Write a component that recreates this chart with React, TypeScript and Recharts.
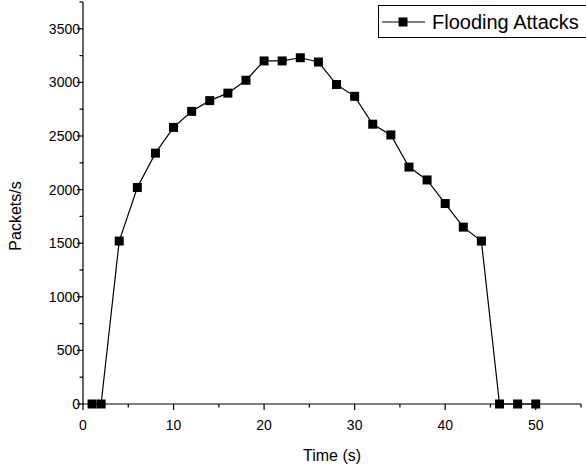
import React from "react";
import { LineChart, Line, XAxis, YAxis } from "recharts";

const times = [1, 2, 4, 6, 8, 10, 12, 14, 16, 18, 20, 22, 24, 26, 28, 30, 32, 34, 36, 38, 40, 42, 44, 46, 48, 50];
const packets = [0, 0, 1520, 2020, 2340, 2580, 2730, 2830, 2900, 3020, 3200, 3200, 3230, 3190, 2980, 2870, 2610, 2510, 2210, 2090, 1870, 1650, 1520, 0, 0, 0];
const xTicks = [0, 5, 10, 15, 20, 25, 30, 35, 40, 45, 50, 55];
const yTicks = [0, 250, 500, 750, 1000, 1250, 1500, 1750, 2000, 2250, 2500, 2750, 3000, 3250, 3500, 3750];

const data = times.map((t, i) => ({ t, v: packets[i] }));

const font = "'Liberation Sans', Arial, sans-serif";

function SquareDot(props: any) {
  const { cx, cy } = props;
  if (cx == null || cy == null) return null;
  return <rect x={cx - 4.5} y={cy - 4.5} width={9} height={9} fill="#000" />;
}

function XTick(props: any) {
  const { x, y, payload } = props;
  const major = payload.value % 10 === 0;
  return (
    <g>
      <line x1={x} y1={y - 8} x2={x} y2={y - 8 + (major ? 6 : 3.5)} stroke="#000" strokeWidth={1.2} />
      {major && payload.value <= 50 && (
        <text x={x} y={y + 18} textAnchor="middle" fontSize={14} fontFamily={font} fill="#000">
          {payload.value}
        </text>
      )}
    </g>
  );
}

function YTick(props: any) {
  const { x, y, payload } = props;
  const major = payload.value % 500 === 0;
  return (
    <g>
      <line x1={x + 8} y1={y} x2={x + 8 - (major ? 6 : 3.5)} y2={y} stroke="#000" strokeWidth={1.2} />
      {major && payload.value <= 3500 && (
        <text x={x + 5} y={y + 5} textAnchor="end" fontSize={14} fontFamily={font} fill="#000">
          {payload.value}
        </text>
      )}
    </g>
  );
}

function YLabel(props: any) {
  const { viewBox } = props;
  const cy = viewBox.y + viewBox.height / 2 + 13;
  return (
    <text
      x={21}
      y={cy}
      transform={`rotate(-90, 21, ${cy})`}
      textAnchor="middle"
      fontSize={16}
      fontFamily={font}
      fill="#000"
    >
      Packets/s
    </text>
  );
}

function LegendBox() {
  return (
    <svg width={210} height={34} style={{ display: "block" }}>
      <rect x={0.5} y={0.5} width={209} height={32} fill="#fff" stroke="#000" strokeWidth={1} />
      <line x1={4} y1={17} x2={47} y2={17} stroke="#000" strokeWidth={1.2} />
      <rect x={20.5} y={12.5} width={9} height={9} fill="#000" />
      <text x={54} y={24} fontSize={20} fontFamily={font} fill="#000">
        Flooding Attacks
      </text>
    </svg>
  );
}

export default function App() {
  return (
    <div style={{ position: "absolute", left: 0, top: 0, width: 586, height: 471, background: "#fff" }}>
      <LineChart width={586} height={471} data={data} margin={{ top: 2, right: 5, left: 0, bottom: 0 }}>
        <XAxis
          type="number"
          dataKey="t"
          domain={[0, 55]}
          ticks={xTicks}
          interval={0}
          tickLine={false}
          tick={<XTick />}
          height={67}
          axisLine={{ stroke: "#000", strokeWidth: 1.2 }}
          label={{ value: "Time (s)", position: "insideBottom", offset: 10, fontSize: 16, fontFamily: font, fill: "#000" }}
        />
        <YAxis
          type="number"
          domain={[0, 3750]}
          ticks={yTicks}
          interval={0}
          tickLine={false}
          tick={<YTick />}
          width={83}
          axisLine={{ stroke: "#000", strokeWidth: 1.2 }}
          label={<YLabel />}
        />
        <Line
          type="linear"
          dataKey="v"
          stroke="#000"
          strokeWidth={1.2}
          dot={<SquareDot />}
          activeDot={false}
          isAnimationActive={false}
        />
      </LineChart>
      <div style={{ position: "absolute", left: 378, top: 5 }}>
        <LegendBox />
      </div>
    </div>
  );
}
